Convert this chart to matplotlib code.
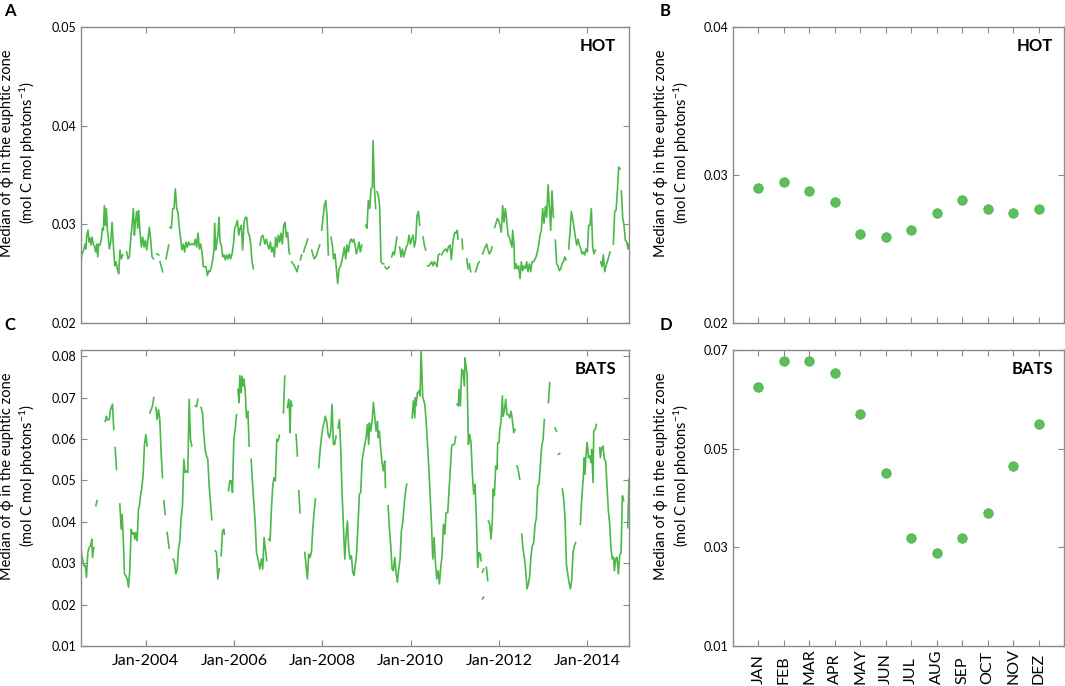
import numpy as np
import matplotlib
matplotlib.use("Agg")
import matplotlib.pyplot as plt
from matplotlib.transforms import blended_transform_factory

nan = np.nan

# ---- weekly medians of phi (nan = no data) ----
hot_year = [
    2002.525, 2002.548, 2002.601, 2002.623, 2002.646, 2002.661, 2002.691, 2002.714, 2002.737, 2002.759,
    2002.782, 2002.812, 2002.842, 2002.865, 2002.888, 2002.910, 2002.933, 2002.963, 2002.993, 2003.016,
    2003.039, 2003.061, 2003.084, 2003.107, 2003.129, 2003.152, 2003.174, 2003.205, 2003.235, 2003.265,
    2003.295, 2003.325, 2003.356, 2003.386, 2003.416, 2003.446, 2003.476, nan,
    2003.567, 2003.597, 2003.627, 2003.658, 2003.688, 2003.718, 2003.741, 2003.763, 2003.794, 2003.816,
    2003.839, 2003.869, 2003.899, 2003.929, 2003.960, 2003.990, 2004.020, 2004.050, 2004.080, 2004.111,
    2004.141, 2004.171, nan,
    2004.247, 2004.292, nan, 2004.322, 2004.382, nan, 2004.458, 2004.518, nan,
    2004.548, 2004.579, 2004.609, 2004.639, 2004.669, 2004.699, 2004.730, 2004.760, 2004.790, 2004.820,
    2004.851, 2004.881, 2004.911, 2004.941, 2004.971, 2005.002, 2005.032, 2005.062, 2005.092, 2005.122,
    2005.153, 2005.183, 2005.213, 2005.243, 2005.273, 2005.304, 2005.334, 2005.364, 2005.394, 2005.424,
    2005.455, 2005.485, 2005.515, 2005.545, 2005.560, 2005.583, 2005.606, 2005.636, 2005.658, 2005.681,
    2005.711, 2005.741, 2005.772, 2005.802, 2005.832, 2005.862, 2005.893, 2005.923, 2005.953, 2005.983,
    2006.013, 2006.043, 2006.074, 2006.104, 2006.134, 2006.164, 2006.194, 2006.225, 2006.255, 2006.285,
    2006.315, 2006.345, 2006.376, 2006.406, 2006.436, nan,
    2006.587, 2006.617, 2006.647, 2006.700, 2006.730, 2006.760, 2006.791, 2006.821, 2006.851, 2006.881,
    2006.911, 2006.942, 2006.972, 2007.002, 2007.032, 2007.062, 2007.093, 2007.123, 2007.153, 2007.183,
    2007.213, 2007.244, 2007.259, nan,
    2007.304, 2007.334, 2007.364, 2007.395, 2007.425, 2007.455, nan,
    2007.500, 2007.531, nan,
    2007.576, 2007.606, 2007.636, 2007.666, nan,
    2007.757, 2007.787, 2007.817, 2007.848, 2007.878, 2007.908, 2007.938, nan,
    2007.984, 2008.014, 2008.044, 2008.074, 2008.104, 2008.134, nan,
    2008.195, 2008.225, 2008.255, 2008.286, 2008.316, 2008.346, 2008.376, 2008.406, 2008.437, 2008.467,
    2008.497, 2008.527, 2008.557, 2008.588, 2008.618, 2008.648, 2008.678, 2008.708, 2008.739, 2008.769,
    2008.799, 2008.829, 2008.859, 2008.890, nan,
    2008.980, 2009.010, 2009.040, 2009.071, 2009.101, 2009.131, 2009.146, 2009.176, 2009.207, nan,
    2009.237, 2009.267, 2009.297, 2009.327, 2009.358, 2009.388, nan,
    2009.418, 2009.448, 2009.478, 2009.509, nan,
    2009.569, 2009.599, 2009.629, 2009.660, 2009.690, nan,
    2009.750, 2009.780, 2009.811, 2009.841, 2009.871, 2009.901, 2009.931, 2009.962, 2009.992, 2010.022,
    2010.052, 2010.082, 2010.113, 2010.143, 2010.173, 2010.203, nan,
    2010.279, 2010.309, 2010.339, nan,
    2010.384, 2010.415, 2010.445, 2010.475, 2010.505, 2010.535, 2010.566, 2010.596, 2010.626, 2010.656, nan,
    2010.701, 2010.732, 2010.762, 2010.792, 2010.822, 2010.853, 2010.890, 2010.920, 2010.950, 2010.981,
    2011.003, 2011.026, 2011.056, 2011.071, nan,
    2011.162, 2011.177, nan, 2011.268, 2011.298, nan, 2011.328, 2011.358, nan,
    2011.464, 2011.494, 2011.524, 2011.554, nan,
    2011.630, 2011.660, 2011.690, 2011.721, 2011.751, 2011.781, 2011.811, 2011.841, nan,
    2011.902, 2011.932, 2011.962, 2011.992, 2012.022, 2012.053, 2012.083, 2012.113, 2012.143, 2012.174,
    2012.204, 2012.234, 2012.264, 2012.294, 2012.309, 2012.340, 2012.355, 2012.385, 2012.415, 2012.445,
    2012.476, 2012.506, 2012.536, 2012.566, 2012.596, 2012.627, 2012.657, 2012.687, 2012.717, 2012.747,
    2012.778, 2012.808, 2012.838, 2012.868, 2012.898, 2012.929, 2012.959, 2012.989, 2013.019, 2013.049,
    2013.080, 2013.110, 2013.140, 2013.170, 2013.200, 2013.231, nan,
    2013.276, 2013.306, 2013.336, 2013.366, 2013.397, 2013.427, 2013.457, 2013.487, 2013.517, nan,
    2013.578, 2013.608, 2013.638, 2013.668, 2013.699, 2013.729, 2013.759, 2013.789, 2013.819, 2013.850,
    2013.880, 2013.910, 2013.940, 2013.970, 2014.001, 2014.031, 2014.061, 2014.091, 2014.121, 2014.152,
    2014.182, nan,
    2014.303, 2014.333, 2014.363, 2014.393, 2014.423, 2014.454, 2014.484, 2014.514, nan,
    2014.590, 2014.620, 2014.650, 2014.680, 2014.710, 2014.741, nan,
    2014.771, 2014.801, 2014.831, 2014.861, 2014.892, 2014.922, 2014.937,
]
hot_phi = [
    .0255, .0269, .0275, .0280, .0275, .0288, .0294, .0282, .0286, .0279,
    .0287, .0280, .0277, .0272, .0280, .0267, .0280, .0279, .0285, .0296,
    .0294, .0319, .0299, .0316, .0294, .0286, .0275, .0282, .0302, .0279,
    .0258, .0262, .0255, .0250, .0274, .0265, .0269, nan,
    .0272, .0265, .0267, .0285, .0299, .0316, .0289, .0302, .0313, .0296,
    .0314, .0292, .0277, .0287, .0277, .0284, .0274, .0285, .0297, .0284,
    .0267, .0265, nan,
    .0270, .0269, nan, .0262, .0252, nan, .0265, .0279, nan,
    .0297, .0296, .0316, .0316, .0336, .0316, .0311, .0296, .0285, .0274,
    .0280, .0272, .0282, .0277, .0282, .0279, .0280, .0280, .0279, .0285,
    .0277, .0291, .0275, .0280, .0272, .0257, .0257, .0257, .0248, .0253,
    .0252, .0257, .0264, .0274, .0301, .0274, .0280, .0291, .0307, .0282,
    .0279, .0267, .0269, .0264, .0269, .0265, .0270, .0265, .0270, .0279,
    .0296, .0299, .0304, .0289, .0296, .0299, .0274, .0302, .0307, .0307,
    .0292, .0289, .0280, .0262, .0255, nan,
    .0279, .0287, .0289, .0280, .0285, .0279, .0275, .0282, .0272, .0277,
    .0267, .0287, .0277, .0289, .0282, .0291, .0280, .0299, .0302, .0287,
    .0292, .0272, .0270, nan,
    .0262, .0260, .0258, .0255, .0252, .0258, nan,
    .0264, .0269, nan,
    .0272, .0277, .0280, .0285, nan,
    .0274, .0269, .0265, .0267, .0270, .0275, .0279, nan,
    .0294, .0306, .0319, .0324, .0309, .0269, nan,
    .0287, .0279, .0265, .0270, .0255, .0240, .0255, .0257, .0262, .0269,
    .0277, .0265, .0279, .0272, .0282, .0285, .0282, .0285, .0279, .0270,
    .0275, .0282, .0272, .0279, nan,
    .0299, .0296, .0324, .0316, .0336, .0338, .0385, .0338, .0316, nan,
    .0333, .0329, .0318, .0262, .0260, .0260, nan,
    .0257, .0255, .0255, .0257, nan,
    .0267, .0272, .0269, .0279, .0287, nan,
    .0277, .0267, .0275, .0267, .0272, .0277, .0280, .0289, .0280, .0285,
    .0289, .0277, .0284, .0309, .0313, .0299, nan,
    .0287, .0279, .0274, nan,
    .0258, .0258, .0260, .0262, .0258, .0262, .0260, .0257, .0269, .0270, nan,
    .0269, .0272, .0274, .0275, .0272, .0277, .0279, .0264, .0280, .0289,
    .0292, .0291, .0294, .0285, nan,
    .0285, .0275, nan, .0265, .0255, nan, .0260, .0252, nan,
    .0252, .0255, .0260, .0262, nan,
    .0270, .0274, .0277, .0280, .0274, .0270, .0272, .0277, nan,
    .0297, .0301, .0306, .0304, .0299, .0292, .0319, .0302, .0316, .0304,
    .0289, .0287, .0282, .0277, .0294, .0279, .0255, .0260, .0255, .0258,
    .0245, .0262, .0253, .0258, .0255, .0262, .0252, .0260, .0252, .0262,
    .0262, .0264, .0267, .0272, .0279, .0289, .0294, .0316, .0301, .0318,
    .0307, .0340, .0319, .0294, .0334, .0307, nan,
    .0284, .0260, .0258, .0253, .0255, .0260, .0262, .0267, .0264, nan,
    .0275, .0292, .0313, .0306, .0296, .0287, .0279, .0285, .0279, .0275,
    .0270, .0272, .0269, .0275, .0272, .0299, .0299, .0316, .0277, .0270,
    .0274, nan,
    .0262, .0257, .0269, .0252, .0258, .0262, .0267, .0272, nan,
    .0280, .0313, .0314, .0333, .0358, .0356, nan,
    .0334, .0307, .0299, .0284, .0282, .0275, .0280,
]

bats_year = [
    2002.520, 2002.551, 2002.596, 2002.626, 2002.656, 2002.687, 2002.717, 2002.747, 2002.777, 2002.792,
    2002.822, nan,
    2002.868, 2002.898, nan,
    2003.079, 2003.109, 2003.124, 2003.170, 2003.200, 2003.245, 2003.275, nan,
    2003.306, 2003.336, nan,
    2003.411, 2003.442, 2003.464, 2003.487, 2003.517, 2003.547, 2003.577, 2003.608, 2003.638, 2003.668,
    2003.698, 2003.728, 2003.751, 2003.774, 2003.804, 2003.834, 2003.857, 2003.879, 2003.910, 2003.940,
    2003.970, 2004.000, 2004.030, nan,
    2004.091, 2004.121, 2004.151, 2004.181, nan,
    2004.227, 2004.257, 2004.287, 2004.317, 2004.347, 2004.378, nan,
    2004.408, 2004.438, nan,
    2004.483, 2004.529, nan,
    2004.619, 2004.649, 2004.680, 2004.710, 2004.740, 2004.770, 2004.800, 2004.831, 2004.861, 2004.891,
    2004.921, 2004.951, 2004.982, 2005.012, 2005.042, nan,
    2005.117, 2005.148, 2005.178, nan,
    2005.253, 2005.284, 2005.314, 2005.344, 2005.374, 2005.404, 2005.435, 2005.465, 2005.495, nan,
    2005.571, 2005.601, 2005.631, 2005.661, nan,
    2005.707, 2005.737, 2005.767, 2005.782, nan,
    2005.873, 2005.903, 2005.933, 2005.963, 2005.993, 2006.024, 2006.054, nan,
    2006.084, 2006.114, 2006.129, 2006.160, 2006.175, 2006.205, 2006.220, 2006.250, 2006.280, 2006.311,
    2006.341, nan,
    2006.386, 2006.416, 2006.446, 2006.477, 2006.507, 2006.537, 2006.582, 2006.618, 2006.648, 2006.679,
    2006.709, 2006.739, nan,
    2006.784, 2006.815, 2006.845, 2006.875, 2006.905, 2006.935, 2006.966, 2006.996, 2007.026, nan,
    2007.117, 2007.147, nan,
    2007.207, 2007.237, 2007.252, 2007.268, 2007.283, 2007.313, nan,
    2007.403, 2007.434, nan,
    2007.464, 2007.494, nan,
    2007.600, 2007.630, 2007.660, 2007.690, 2007.721, 2007.751, 2007.781, 2007.811, 2007.841, nan,
    2007.917, 2007.947, 2007.977, 2008.007, 2008.038, 2008.068, 2008.098, 2008.128, 2008.158, 2008.189,
    2008.219, 2008.249, 2008.279, 2008.309, nan,
    2008.355, 2008.385, 2008.415, 2008.445, 2008.476, 2008.506, 2008.536, 2008.566, 2008.596, 2008.626,
    2008.657, 2008.687, 2008.717, 2008.747, 2008.777, 2008.808, 2008.838, 2008.868, 2008.898, 2008.928,
    2008.959, 2008.989, 2009.019, 2009.049, 2009.064, 2009.095, 2009.125, 2009.155, 2009.185, 2009.215,
    2009.246, 2009.261, 2009.291, 2009.321, 2009.351, 2009.381, 2009.412, 2009.427, nan,
    2009.487, 2009.517, 2009.548, 2009.578, 2009.608, 2009.638, 2009.668, 2009.698, 2009.729, 2009.759,
    2009.789, 2009.819, 2009.850, 2009.880, 2009.910, nan,
    2010.031, 2010.061, 2010.091, 2010.106, 2010.121, 2010.152, nan,
    2010.182, 2010.212, 2010.235, 2010.272, 2010.287, 2010.318, 2010.348, 2010.378, 2010.408, 2010.439,
    2010.469, 2010.499, 2010.529, 2010.559, 2010.590, 2010.620, 2010.650, 2010.680, 2010.710, 2010.741,
    2010.771, 2010.801, 2010.838, 2010.868, 2010.898, 2010.928, 2010.959, 2010.989, 2011.019, nan,
    2011.049, 2011.079, 2011.095, 2011.125, 2011.155, 2011.185, 2011.215, 2011.230, 2011.261, 2011.276,
    2011.306, 2011.336, 2011.366, 2011.396, 2011.427, 2011.457, 2011.487, 2011.517, 2011.548, 2011.578,
    2011.593, nan,
    2011.623, 2011.653, nan,
    2011.623, 2011.653, nan,
    2011.714, 2011.744, nan,
    2011.759, 2011.789, 2011.819, 2011.850, 2011.865, 2011.895, 2011.925, 2011.955, 2011.970, 2012.000,
    2012.015, 2012.046, 2012.076, 2012.091, 2012.121, 2012.151, 2012.181, 2012.212, 2012.242, 2012.272,
    2012.302, 2012.333, 2012.363, nan,
    2012.408, 2012.438, 2012.469, nan,
    2012.514, 2012.544, 2012.574, 2012.604, 2012.635, 2012.665, 2012.695, 2012.725, 2012.755, 2012.786,
    2012.816, 2012.846, 2012.876, 2012.906, 2012.937, 2012.967, 2012.997, 2013.027, nan,
    2013.118, 2013.148, nan,
    2013.269, 2013.299, nan,
    2013.344, 2013.375, nan,
    2013.435, 2013.465, 2013.495, 2013.526, 2013.556, 2013.586, 2013.616, 2013.646, 2013.677, 2013.707,
    2013.737, nan,
    2013.843, 2013.873, 2013.903, 2013.933, 2013.948, 2013.964, 2013.994, 2014.009, 2014.024, 2014.054,
    2014.084, 2014.099, 2014.130, 2014.145, 2014.175, 2014.205, nan,
    2014.281, 2014.296, 2014.326, 2014.356, 2014.386, 2014.416, 2014.447, 2014.477, 2014.507, 2014.537,
    2014.567, 2014.598, 2014.613, 2014.643, 2014.673, 2014.703, 2014.733, 2014.764, 2014.794, 2014.824, nan,
    2014.915, 2014.945,
]
bats_phi = [
    .0346, .0318, .0294, .0294, .0266, .0326, .0338, .0342, .0358, .0314,
    .0338, nan,
    .0439, .0451, nan,
    .0643, .0655, .0646, .0647, .0671, .0684, .0623, nan,
    .0579, .0527, nan,
    .0443, .0382, .0418, .0366, .0274, .0270, .0262, .0242, .0286, .0382,
    .0370, .0374, .0358, .0374, .0354, .0431, .0439, .0463, .0483, .0515,
    .0587, .0611, .0583, nan,
    .0663, .0671, .0680, .0700, nan,
    .0676, .0647, .0671, .0647, .0567, .0507, nan,
    .0451, .0418, nan,
    .0374, .0336, nan,
    .0310, .0302, .0274, .0286, .0334, .0354, .0410, .0439, .0551, .0519,
    .0523, .0519, .0696, .0599, .0583, nan,
    .0680, .0678, .0696, nan,
    .0676, .0663, .0611, .0575, .0559, .0551, .0487, .0447, .0405, nan,
    .0330, .0326, .0262, .0286, nan,
    .0318, .0378, .0382, .0370, nan,
    .0475, .0499, .0499, .0471, .0599, .0623, .0659, nan,
    .0720, .0688, .0753, .0712, .0752, .0728, .0745, .0720, .0651, .0667,
    .0583, nan,
    .0551, .0495, .0447, .0398, .0326, .0312, .0286, .0310, .0286, .0362,
    .0334, .0306, nan,
    .0358, .0354, .0431, .0487, .0507, .0499, .0599, .0595, .0609, nan,
    .0663, .0752, nan,
    .0676, .0696, .0671, .0615, .0692, .0680, nan,
    .0611, .0559, nan,
    .0475, .0422, nan,
    .0326, .0294, .0262, .0322, .0314, .0326, .0382, .0422, .0455, nan,
    .0531, .0571, .0603, .0627, .0639, .0655, .0643, .0611, .0603, .0619,
    .0684, .0587, .0587, .0607, nan,
    .0627, .0647, .0575, .0471, .0390, .0310, .0366, .0402, .0334, .0310,
    .0318, .0278, .0270, .0298, .0326, .0398, .0467, .0471, .0547, .0567,
    .0587, .0603, .0635, .0587, .0639, .0619, .0643, .0688, .0655, .0619,
    .0643, .0603, .0619, .0575, .0543, .0523, .0547, .0483, nan,
    .0439, .0386, .0342, .0286, .0282, .0314, .0278, .0254, .0286, .0310,
    .0378, .0398, .0439, .0471, .0491, nan,
    .0651, .0692, .0651, .0700, .0680, .0712, nan,
    .0716, .0704, .0816, .0700, .0696, .0684, .0647, .0591, .0535, .0463,
    .0398, .0310, .0362, .0302, .0262, .0282, .0250, .0290, .0318, .0394,
    .0370, .0422, .0422, .0475, .0527, .0583, .0587, .0587, .0606, nan,
    .0684, .0680, .0720, .0680, .0768, .0764, .0728, .0796, .0768, .0760,
    .0587, .0611, .0591, .0515, .0467, .0491, .0406, .0290, .0326, .0322,
    .0306, nan,
    .0278, .0286, nan,
    .0214, .0218, nan,
    .0290, .0258, nan,
    .0402, .0394, .0358, .0406, .0479, .0463, .0535, .0527, .0591, .0591,
    .0619, .0643, .0704, .0655, .0667, .0696, .0659, .0659, .0651, .0667,
    .0647, .0615, .0623, nan,
    .0535, .0523, .0503, nan,
    .0370, .0334, .0314, .0282, .0238, .0250, .0270, .0318, .0342, .0350,
    .0394, .0410, .0487, .0491, .0539, .0583, .0599, .0647, nan,
    .0688, .0736, nan,
    .0627, .0619, nan,
    .0563, .0565, nan,
    .0479, .0455, .0410, .0298, .0274, .0254, .0238, .0258, .0326, .0342,
    .0350, nan,
    .0394, .0455, .0499, .0555, .0515, .0551, .0591, .0579, .0555, .0559,
    .0543, .0575, .0495, .0619, .0623, .0635, nan,
    .0579, .0555, .0579, .0583, .0551, .0547, .0483, .0427, .0394, .0334,
    .0310, .0314, .0282, .0310, .0314, .0274, .0318, .0326, .0463, .0451, nan,
    .0386, .0503,
]

# ---- monthly medians ----
months = ["JAN", "FEB", "MAR", "APR", "MAY", "JUN", "JUL", "AUG", "SEP", "OCT", "NOV", "DEZ"]
hot_month_phi = [0.0291, 0.0295, 0.0289, 0.0282, 0.0260, 0.0258, 0.0263, 0.0274, 0.0283, 0.0277, 0.0274, 0.0277]
bats_month_phi = [0.0625, 0.0677, 0.0678, 0.0654, 0.0571, 0.0451, 0.0318, 0.0288, 0.0318, 0.0369, 0.0465, 0.0551]

year_ticks = [2004, 2006, 2008, 2010, 2012, 2014]

assert len(hot_year) == len(hot_phi) and len(bats_year) == len(bats_phi)

LINE = "#4cb84a"
DOT = "#5cbf5a"
BOX = "#8a8a8a"

plt.rcParams.update({
    "font.family": ["Lato", "DejaVu Sans"],
    "mathtext.fontset": "custom", "mathtext.rm": "Lato", "mathtext.it": "Lato:italic",
    "font.size": 9,
    "axes.edgecolor": BOX, "axes.linewidth": 1.0,
    "xtick.direction": "in", "ytick.direction": "in",
    "xtick.top": True, "ytick.right": True,
    "xtick.color": BOX, "ytick.color": BOX,
    "xtick.labelcolor": "black", "ytick.labelcolor": "black",
    "xtick.major.size": 4, "ytick.major.size": 4,
    "xtick.labelsize": 9, "ytick.labelsize": 9,
})

W, H = 1065, 686
fig = plt.figure(figsize=(W / 100, H / 100), dpi=100)


def box(l, r, t, b):
    return fig.add_axes([l / W, 1 - b / H, (r - l) / W, (b - t) / H])


axA = box(81, 629, 27, 323)
axC = box(81, 629, 350, 646)
axB = box(733, 1064, 27, 323)
axD = box(733, 1064, 350, 646)

YLAB = "Median of \u03d5 in the euphtic zone\n(mol C mol photons$^{-1}$)"

for ax, yr, ph, lim, ticks, name in [
        (axA, hot_year, hot_phi, (0.02, 0.05), [0.02, 0.03, 0.04, 0.05], "HOT"),
        (axC, bats_year, bats_phi, (0.01, 0.0815), [0.01, 0.02, 0.03, 0.04, 0.05, 0.06, 0.07, 0.08], "BATS")]:
    ax.plot(yr, ph, color=LINE, lw=1.2)
    ax.set_xlim(2002.532, 2014.944)
    ax.set_ylim(*lim)
    ax.set_yticks(ticks)
    ax.set_yticklabels([f"{t:.2f}" for t in ticks])
    ax.set_xticks(year_ticks)
    ax.set_ylabel(YLAB, fontsize=10.5, linespacing=1.25)
    ax.yaxis.set_label_coords(-0.078, 0.575)
    ax.text(0.976, 0.962, name, transform=ax.transAxes, ha="right", va="top",
            fontsize=12, fontweight="bold")

axA.set_xticklabels([])
axC.set_xticklabels([f"Jan-{y}" for y in year_ticks], fontsize=11.5)
axC.tick_params(axis="x", pad=6)

mx = np.arange(1, 13)
for ax, vals, lim, ticks, name in [
        (axB, hot_month_phi, (0.02, 0.04), [0.02, 0.03, 0.04], "HOT"),
        (axD, bats_month_phi, (0.01, 0.07), [0.01, 0.03, 0.05, 0.07], "BATS")]:
    ax.plot(mx, vals, "o", ms=6.8, color=DOT, mec="#4fb04d", mew=0.6)
    ax.set_xlim(0, 13)
    ax.set_ylim(*lim)
    ax.set_yticks(ticks)
    ax.set_yticklabels([f"{t:.2f}" for t in ticks])
    ax.set_xticks(mx)
    ax.set_xticklabels([])
    ax.set_ylabel(YLAB, fontsize=10.5, linespacing=1.25)
    ax.yaxis.set_label_coords(-0.124, 0.575)
    ax.text(0.967, 0.962, name, transform=ax.transAxes, ha="right", va="top",
            fontsize=12, fontweight="bold")

tr = blended_transform_factory(axD.transData, fig.transFigure)
for m, lab in zip(mx, months):
    axD.text(m, 2 / H, lab, transform=tr, rotation=90, ha="center", va="bottom",
             fontsize=11.5, clip_on=False)

for s, (x, y) in zip("ABCD", [(4, 3), (660, 3), (4, 317), (660, 317)]):
    fig.text(x / W, 1 - y / H, s, ha="left", va="top", fontsize=12, fontweight="bold")

fig.savefig("out.png", dpi=100)
